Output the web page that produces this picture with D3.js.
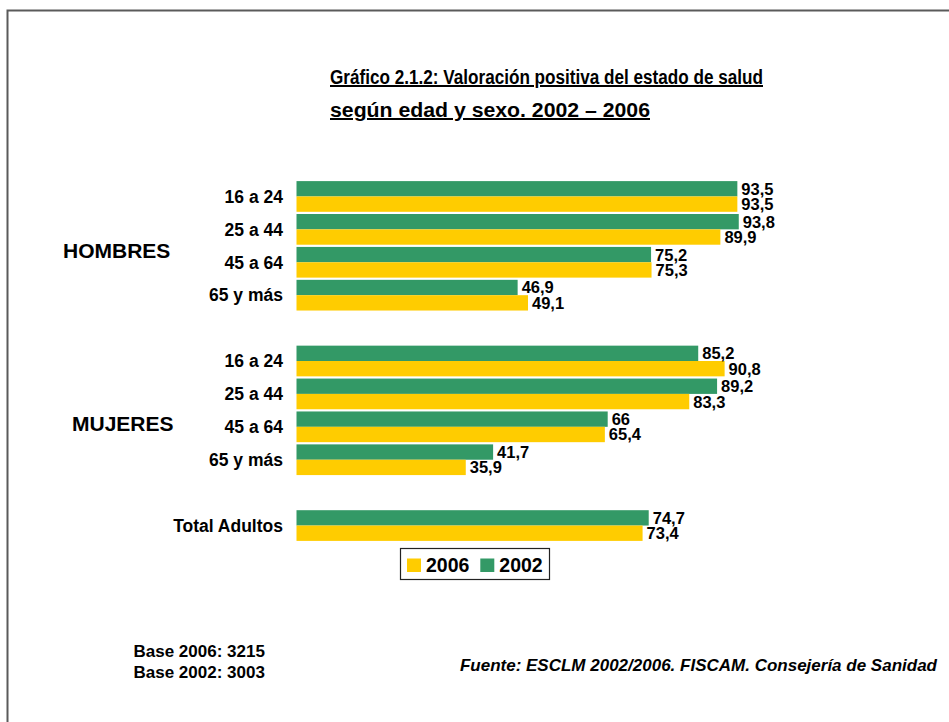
<!DOCTYPE html>
<html>
<head>
<meta charset="utf-8">
<script src="https://cdn.jsdelivr.net/npm/d3@7"></script>
<style>
  body { margin: 0; background: #fff; }
  text { font-family: "Liberation Sans", Arial, sans-serif; font-weight: bold; }
</style>
</head>
<body>
<div id="chart"></div>
<script>
const FRAME_WIDTH = 949;
const FRAME_HEIGHT = 722;

// data
const AGE_GROUPS = ["16 a 24", "25 a 44", "45 a 64", "65 y más"];
const HOMBRES_2002 = [93.5, 93.8, 75.2, 46.9];
const HOMBRES_2006 = [93.5, 89.9, 75.3, 49.1];
const MUJERES_2002 = [85.2, 89.2, 66, 41.7];
const MUJERES_2006 = [90.8, 83.3, 65.4, 35.9];
const TOTAL_2002 = 74.7;
const TOTAL_2006 = 73.4;
const YEARS = ["2002", "2006"];
const LEGEND_YEARS = ["2006", "2002"];
const SEX_LABELS = ["HOMBRES", "MUJERES"];

const COLORS = {"2002": "#339966", "2006": "#ffcc00"};

// rows, with two empty slots between the blocks
const rows = [];
AGE_GROUPS.forEach((a, i) => rows.push({key: "H" + i, label: a, "2002": HOMBRES_2002[i], "2006": HOMBRES_2006[i]}));
rows.push({key: "gap1"});
AGE_GROUPS.forEach((a, i) => rows.push({key: "M" + i, label: a, "2002": MUJERES_2002[i], "2006": MUJERES_2006[i]}));
rows.push({key: "gap2"});
rows.push({key: "T", label: "Total Adultos", "2002": TOTAL_2002, "2006": TOTAL_2006});
const dataRows = rows.filter(d => d.label);

const svg = d3.select("#chart")
    .append("svg")
    .attr("width", FRAME_WIDTH)
    .attr("height", FRAME_HEIGHT);

// frame line (only top and left are visible)
svg.append("rect")
    .attr("x", 7.5).attr("y", 10.5)
    .attr("width", 1000).attr("height", 1000)
    .attr("fill", "none")
    .attr("stroke", "#5a5a5a")
    .attr("stroke-width", 2);

// title - the original font is a narrow one, so stretch to the measured widths
const titleLines = [
  {text: "Gráfico 2.1.2: Valoración positiva del estado de salud", y: 84, len: 433},
  {text: "según edad y sexo. 2002 – 2006", y: 117, len: 320}
];
svg.selectAll(".title")
    .data(titleLines)
    .enter()
    .append("text")
    .attr("class", "title")
    .attr("x", 330)
    .attr("y", d => d.y)
    .attr("font-size", "20px")
    .attr("textLength", d => d.len)
    .attr("lengthAdjust", "spacingAndGlyphs")
    .attr("text-decoration", "underline")
    .text(d => d.text);

const X_SCALE = d3.scaleLinear()
    .domain([0, 100])
    .range([296.5, 768]);

const Y_SCALE = d3.scaleBand()
    .domain(rows.map(d => d.key))
    .range([180, 542])
    .paddingInner(0.067)
    .paddingOuter(0.0335);

const SUB_SCALE = d3.scaleBand()
    .domain(YEARS)
    .range([0, Y_SCALE.bandwidth()]);

const groups = svg.selectAll(".row")
    .data(dataRows)
    .enter()
    .append("g")
    .attr("class", "row")
    .attr("transform", d => "translate(0," + Y_SCALE(d.key) + ")");

groups.selectAll("rect")
    .data(d => YEARS.map(y => ({year: y, value: d[y]})))
    .enter()
    .append("rect")
    .attr("x", X_SCALE(0))
    .attr("y", d => SUB_SCALE(d.year))
    .attr("width", d => X_SCALE(d.value) - X_SCALE(0))
    .attr("height", SUB_SCALE.bandwidth())
    .attr("fill", d => COLORS[d.year]);

groups.selectAll(".val")
    .data(d => YEARS.map(y => ({year: y, value: d[y]})))
    .enter()
    .append("text")
    .attr("class", "val")
    .attr("x", d => X_SCALE(d.value) + 4)
    .attr("y", d => SUB_SCALE(d.year) + SUB_SCALE.bandwidth() / 2)
    .attr("dy", "0.36em")
    .attr("font-size", "16.5px")
    .text(d => String(d.value).replace(".", ","));

// category labels
groups.append("text")
    .attr("x", 283)
    .attr("y", Y_SCALE.bandwidth() / 2)
    .attr("dy", "0.36em")
    .attr("text-anchor", "end")
    .attr("font-size", "17.5px")
    .text(d => d.label);

// sex labels
const sexPos = [{x: 63, y: 257.5}, {x: 72, y: 431}];
svg.selectAll(".sex")
    .data(SEX_LABELS)
    .enter()
    .append("text")
    .attr("class", "sex")
    .attr("x", (d, i) => sexPos[i].x)
    .attr("y", (d, i) => sexPos[i].y)
    .attr("font-size", "21px")
    .text(d => d);

// legend
const legend = svg.append("g").attr("transform", "translate(400,548)");
legend.append("rect")
    .attr("x", 0.5).attr("y", 0.5)
    .attr("width", 149).attr("height", 31)
    .attr("fill", "#fff")
    .attr("stroke", "#222")
    .attr("stroke-width", 1.2);
const items = legend.selectAll(".item")
    .data(LEGEND_YEARS)
    .enter()
    .append("g")
    .attr("class", "item")
    .attr("transform", (d, i) => "translate(" + (7 + i * 73.3) + ",0)");
items.append("rect")
    .attr("x", 0).attr("y", 10.5)
    .attr("width", 14).attr("height", 13.5)
    .attr("fill", d => COLORS[d]);
items.append("text")
    .attr("x", 19)
    .attr("y", 17)
    .attr("dy", "0.36em")
    .attr("font-size", "19.5px")
    .text(d => d);

// footer
svg.append("text").attr("x", 133.5).attr("y", 656.5).attr("font-size", "17px").text("Base 2006: 3215");
svg.append("text").attr("x", 133.5).attr("y", 677.5).attr("font-size", "17px").text("Base 2002: 3003");
svg.append("text")
    .attr("x", 937).attr("y", 671)
    .attr("text-anchor", "end")
    .attr("font-size", "17px")
    .attr("font-style", "italic")
    .text("Fuente: ESCLM 2002/2006. FISCAM. Consejería de Sanidad");
</script>
</body>
</html>
